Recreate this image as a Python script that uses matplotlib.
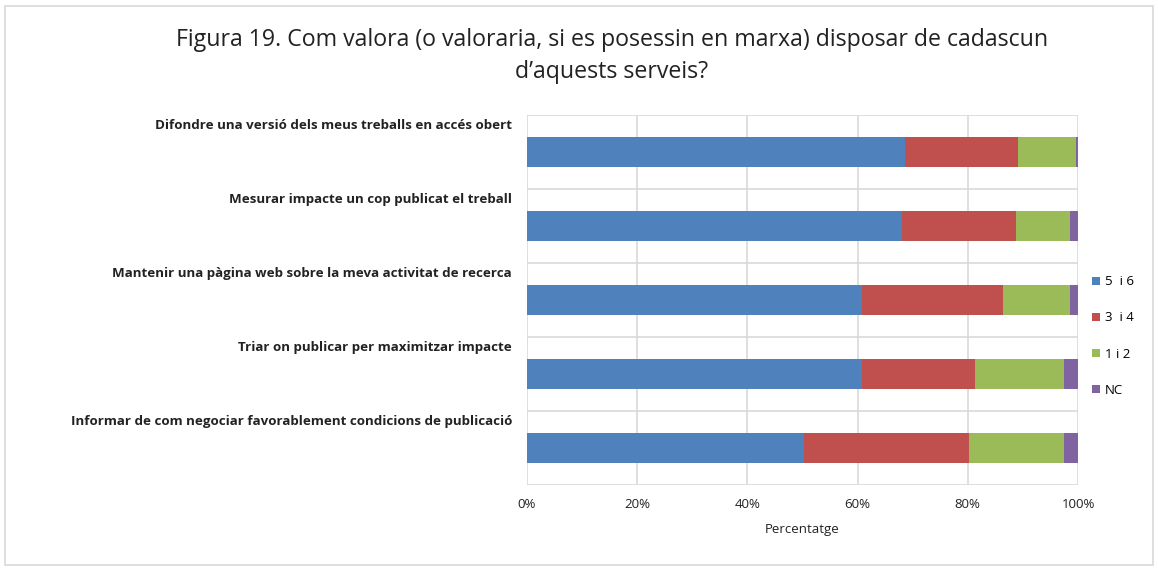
import matplotlib
matplotlib.use("Agg")
import matplotlib.pyplot as plt
from matplotlib.patches import Rectangle
import matplotlib.transforms as mtransforms
import numpy as np

categories = [
    "Difondre una versió dels meus treballs en accés obert",
    "Mesurar impacte un cop publicat el treball",
    "Mantenir una pàgina web sobre la meva activitat de recerca",
    "Triar on publicar per maximitzar impacte",
    "Informar de com negociar favorablement condicions de publicació",
]
series_names = ["5  i 6", "3  i 4", "1 i 2", "NC"]
v56 = [68.6, 68.1, 60.8, 60.8, 50.3]
v34 = [20.6, 20.7, 25.5, 20.5, 30.0]
v12 = [10.5, 9.8, 12.3, 16.1, 17.1]
vnc = [0.3, 1.4, 1.4, 2.6, 2.6]
colors = ["#4F81BD", "#C0504D", "#9BBB59", "#8064A2"]
xticks = [0, 20, 40, 60, 80, 100]
xticklabels = ["0%", "20%", "40%", "60%", "80%", "100%"]

plt.rcParams['font.family'] = ['Open Sans', 'DejaVu Sans']

fig = plt.figure(figsize=(11.58, 5.70), dpi=100)
fig.patches.append(Rectangle((0.004, 0.008), 0.992, 0.982, transform=fig.transFigure,
                             fill=False, edgecolor="#D9D9D9", linewidth=1.2))

ax = fig.add_axes([527/1158, 1-485/570, (1078-527)/1158, (485-115)/570])

y = np.arange(len(categories))
left = np.zeros(len(categories))
for vals, name, c in zip([v56, v34, v12, vnc], series_names, colors):
    ax.barh(y, vals, left=left, height=0.4, color=c, label=name, edgecolor="none")
    left += np.array(vals)

ax.set_xlim(0, 100)
ax.set_ylim(len(categories) - 0.5, -0.5)
ax.set_xticks(xticks)
ax.set_xticklabels(xticklabels, fontsize=9.5, color="#222222")
ax.tick_params(axis="x", length=0, pad=9)
ax.set_yticks(np.arange(-0.5, len(categories), 1.0))
ax.set_yticklabels([])
ax.tick_params(axis="y", length=0)
ax.grid(True, color="#D9D9D9", linewidth=1.2)
ax.set_axisbelow(True)
for s in ax.spines.values():
    s.set_visible(False)
ax.set_xlabel("Percentatge", fontsize=9.5, labelpad=9, color="#222222")

trans = mtransforms.blended_transform_factory(ax.transAxes, ax.transData)
trans = trans + mtransforms.ScaledTranslation(-15/100, 0, fig.dpi_scale_trans)
for i, cat in enumerate(categories):
    ax.text(0, i - 0.36, cat, transform=trans, ha="right", va="center",
            fontsize=9.6, fontweight="bold", color="#222222")

fig.text(612/1158, 1-40/570, "Figura 19. Com valora (o valoraria, si es posessin en marxa) disposar de cadascun",
         ha="center", va="center", fontsize=16.7, color="#222222")
fig.text(612/1158, 1-72/570, "d\u2019aquests serveis?", ha="center", va="center",
         fontsize=16.7, color="#222222")

leg = fig.legend(loc="center left", bbox_to_anchor=(1092/1158, 1-336/570), frameon=False,
                 fontsize=9.5, handlelength=0.6, handleheight=0.6, labelspacing=1.75,
                 handletextpad=0.4, borderaxespad=0.0, borderpad=0.0)

fig.savefig("out.png", dpi=100)
